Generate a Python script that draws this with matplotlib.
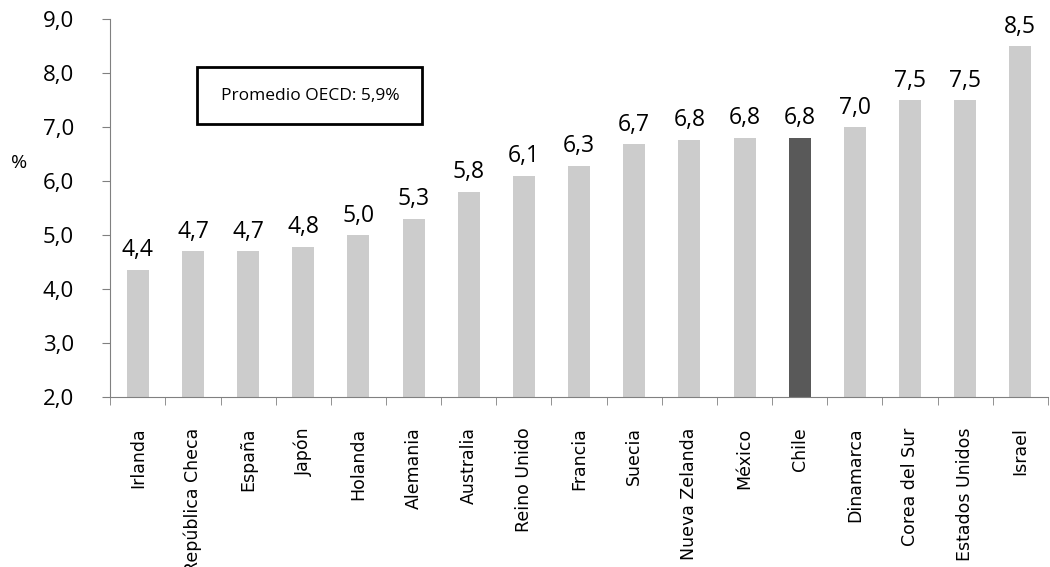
import matplotlib.pyplot as plt
from matplotlib import font_manager
from matplotlib.patches import Rectangle

paises = ['Irlanda', 'República Checa', 'España', 'Japón', 'Holanda', 'Alemania',
          'Australia', 'Reino Unido', 'Francia', 'Suecia', 'Nueva Zelanda', 'México',
          'Chile', 'Dinamarca', 'Corea del Sur', 'Estados Unidos', 'Israel']
valores = [4.36, 4.7, 4.7, 4.78, 5.0, 5.3, 5.8, 6.1, 6.28, 6.68, 6.77, 6.8,
           6.8, 7.0, 7.5, 7.5, 8.5]
destacado = 'Chile'
promedio_texto = 'Promedio OECD: 5,9%'
yticks = [2, 3, 4, 5, 6, 7, 8, 9]

names = {f.name for f in font_manager.fontManager.ttflist}
narrow = 'Liberation Sans Narrow' if 'Liberation Sans Narrow' in names else 'DejaVu Sans Condensed'
main_font = 'Open Sans'

fig = plt.figure(figsize=(10.5, 5.67), dpi=100)
ax = fig.add_axes([0.105, 0.30, 0.893, 0.666])

colores = ['#595959' if p == destacado else '#cccccc' for p in paises]
x = range(len(paises))
ax.bar(x, valores, width=0.4, color=colores, bottom=0)

for i, v in enumerate(valores):
    ax.text(i, v + 0.14, f'{v:.1f}'.replace('.', ','), ha='center', va='bottom',
            fontsize=16.5, family=main_font)

ax.set_ylim(2, 9)
ax.set_xlim(-0.5, len(paises) - 0.5)
ax.set_yticks(yticks)
ax.set_yticklabels([f'{t:.1f}'.replace('.', ',') for t in yticks], fontsize=16, family=main_font)
ax.set_xticks(range(len(paises)))
ax.set_xticklabels(paises, rotation=90, fontsize=12.5, family=narrow)
ax.set_xticks([i - 0.5 for i in range(len(paises) + 1)], minor=True)
ax.tick_params(axis='x', which='major', length=0, pad=22)
ax.tick_params(axis='x', which='minor', length=6, color='#808080', direction='out')
ax.tick_params(axis='y', length=6, color='#808080', direction='out', pad=20)

for s in ['top', 'right']:
    ax.spines[s].set_visible(False)
for s in ['left', 'bottom']:
    ax.spines[s].set_color('#808080')

fig.text(0.018, 0.712, '%', fontsize=14, family=main_font, ha='center', va='center')

ax.add_patch(Rectangle((0.093, 0.722), 0.24, 0.151, transform=ax.transAxes,
                       facecolor='white', edgecolor='black', linewidth=2, clip_on=False))
ax.text(0.213, 0.797, promedio_texto, transform=ax.transAxes, fontsize=12.5,
        family=main_font, ha='center', va='center')

fig.savefig('out.png', dpi=100)
